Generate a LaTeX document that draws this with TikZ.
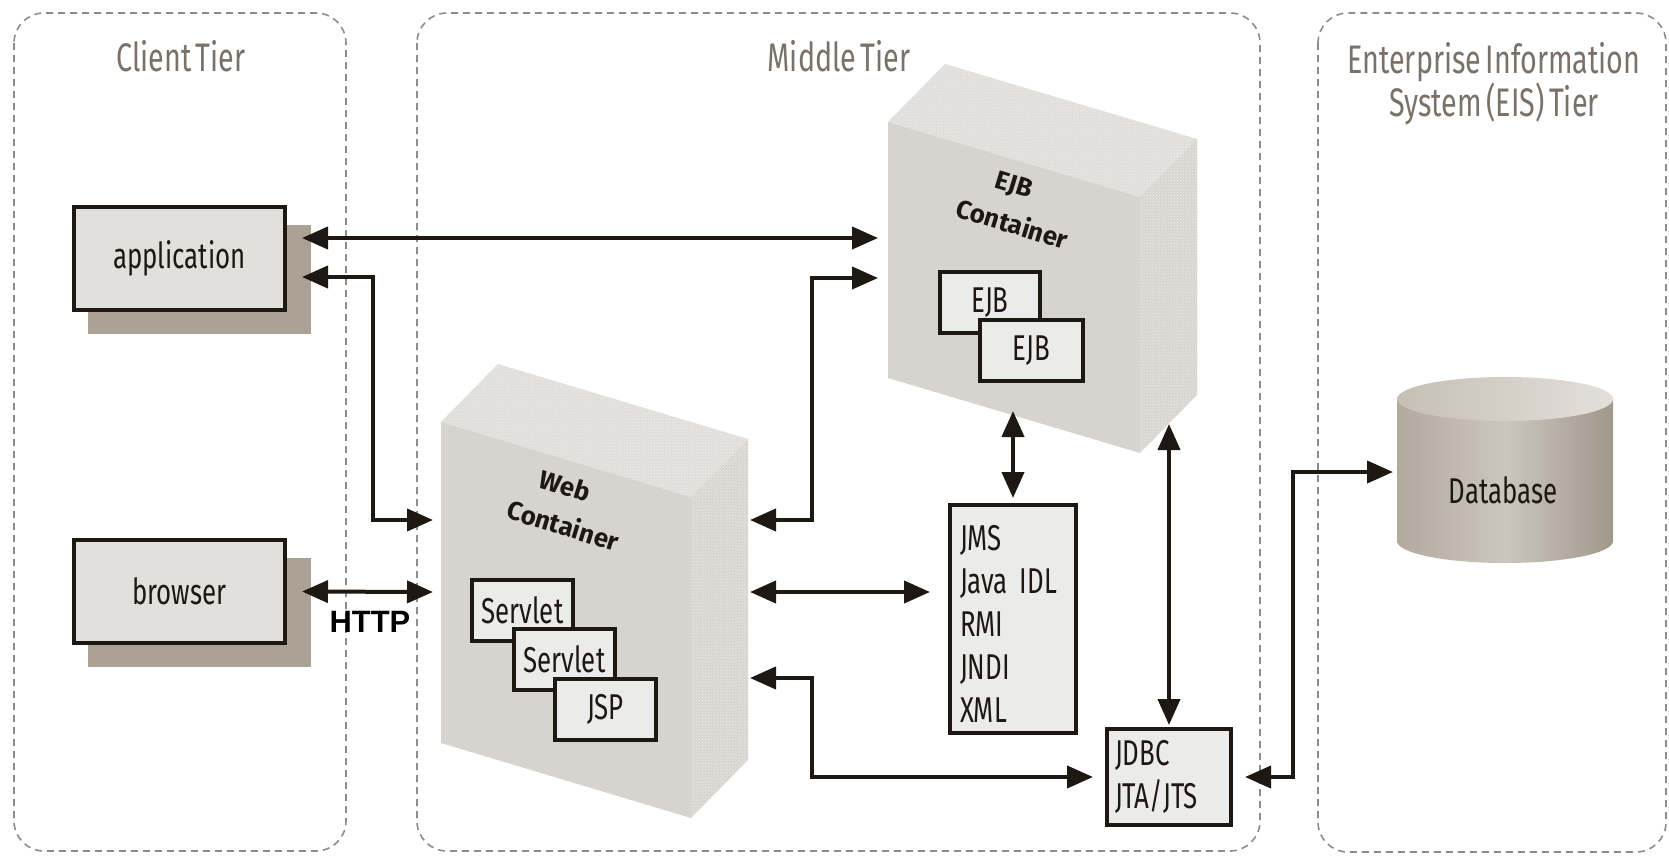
\documentclass[tikz,border=0pt]{standalone}
\usepackage{fontspec}
\usetikzlibrary{arrows.meta,calc,shadows,patterns}
\newfontfamily\dfont[FakeStretch=0.72, WordSpace=0.6]{Fira Sans}
\newfontfamily\bfont[WordSpace=0.8]{Fira Sans}
\newfontfamily\hfont{Liberation Sans}
\definecolor{tierdash}{HTML}{8C8C8C}
\definecolor{titlecol}{HTML}{7A7168}
\definecolor{ink}{HTML}{1E1813}
\definecolor{boxfill}{HTML}{E2E0DD}
\definecolor{shadowcol}{HTML}{ABA195}
\definecolor{innerfill}{HTML}{EBEBEA}
\definecolor{frontc}{HTML}{D7D4CF}
\definecolor{topc}{HTML}{E0DEDA}
\definecolor{sidec}{HTML}{D8D5D0}
\definecolor{dotc}{HTML}{F2F1EF}
\definecolor{dbL}{HTML}{B3AA9E}
\definecolor{dbM}{HTML}{CCC6BE}
\definecolor{dbR}{HTML}{A1988B}
\definecolor{dbT1}{HTML}{C6BFB5}
\definecolor{dbT2}{HTML}{E3DFDA}
\begin{document}
\begin{tikzpicture}[x=1bp,y=-1bp,
  tier/.style={draw=tierdash, line width=1.6bp, dash pattern=on 7bp off 5bp, rounded corners=30bp},
  ttl/.style={text=titlecol, font=\dfont\fontsize{40}{37}\selectfont, align=center, inner sep=0pt},
  txt/.style={text=ink, font=\dfont\fontsize{36}{43}\selectfont},
  cbox/.style={txt, draw=ink, line width=4bp, fill=boxfill, minimum width=211bp, minimum height=103bp, inner sep=0pt,
    drop shadow={shadow xshift=19bp, shadow yshift=-20bp, shadow scale=1.06, fill=shadowcol, opacity=1}},
  ibox/.style={txt, draw=ink, line width=4bp, fill=innerfill, inner sep=0pt},
  clbl/.style={text=ink, font=\bfont\bfseries\fontsize{26}{39}\selectfont, rotate=-17, inner sep=0pt, align=center},
  texture/.style={pattern=crosshatch dots, pattern color=dotc},
  dbl/.style={draw=ink, line width=4bp, {Triangle[length=26bp,width=22bp]}-{Triangle[length=26bp,width=22bp]}},
]
\useasboundingbox (0,0) rectangle (1669,856);
\fill[white] (0,0) rectangle (1669,856);

% tiers
\draw[tier] (14,13) rectangle (346,851);
\draw[tier] (417,13) rectangle (1260,851);
\draw[tier] (1318,13) rectangle (1666,852);
\node[ttl, anchor=base] (tclient) at (181,71) {Client Tier};
\node[ttl, anchor=base] (tmid) at (839,71) {Middle Tier};
\node[ttl] (teis) at (1494,84) {Enterprise Information\\System (EIS) Tier};

% web container
\coordinate (wTL) at (441,422);
\coordinate (wTR) at (691,497);
\coordinate (wBR) at (691,818);
\coordinate (wBL) at (441,743);
\fill[topc] (wTL) -- ++(57,-58) -- ($(wTR)+(57,-58)$) -- (wTR) -- cycle;
\fill[texture] (wTL) -- ++(57,-58) -- ($(wTR)+(57,-58)$) -- (wTR) -- cycle;
\fill[sidec] (wTR) -- ($(wTR)+(57,-58)$) -- ($(wBR)+(57,-58)$) -- (wBR) -- cycle;
\fill[texture] (wTR) -- ($(wTR)+(57,-58)$) -- ($(wBR)+(57,-58)$) -- (wBR) -- cycle;
\fill[frontc] (wTL) -- (wTR) -- (wBR) -- (wBL) -- cycle;
\node[clbl] (weblbl) at (569,507) {Web\hspace*{20bp}\\Container};
\node[ibox, minimum width=101bp, minimum height=61bp] (sv1) at (522.5,610.5) {Servlet};
\node[ibox, minimum width=101bp, minimum height=61bp] (sv2) at (564.5,659.5) {Servlet};
\node[ibox, minimum width=101bp, minimum height=61bp] (jsp) at (605.5,709.5) {JSP};

% EJB container
\coordinate (eTL) at (888,122);
\coordinate (eTR) at (1140,197);
\coordinate (eBR) at (1140,453);
\coordinate (eBL) at (888,378);
\fill[topc] (eTL) -- ++(57,-58) -- ($(eTR)+(57,-58)$) -- (eTR) -- cycle;
\fill[texture] (eTL) -- ++(57,-58) -- ($(eTR)+(57,-58)$) -- (eTR) -- cycle;
\fill[sidec] (eTR) -- ($(eTR)+(57,-58)$) -- ($(eBR)+(57,-58)$) -- (eBR) -- cycle;
\fill[texture] (eTR) -- ($(eTR)+(57,-58)$) -- ($(eBR)+(57,-58)$) -- (eBR) -- cycle;
\fill[frontc] (eTL) -- (eTR) -- (eBR) -- (eBL) -- cycle;
\node[clbl] (ejblbl) at (1018,206) {EJB\hspace*{20bp}\\Container};
\node[ibox, minimum width=100bp, minimum height=61bp] (ejb1) at (990,302.5) {EJB};
\node[ibox, minimum width=103bp, minimum height=61bp] (ejb2) at (1031.5,350.5) {EJB};

% services
\node[ibox, minimum width=126bp, minimum height=228bp] (jms) at (1013,619) {};
\node[txt, text width=106bp, align=left, inner sep=0pt] (jmslist) at (1013,624) {JMS\\Java IDL\\RMI\\JNDI\\XML};
\node[ibox, minimum width=124bp, minimum height=96bp, text width=108bp, align=left] (jdbc) at (1169,777) {JDBC\\JTA/JTS};

% client boxes
\node[cbox] (app) at (179.5,258) {application};
\node[cbox] (browser) at (179.5,591.5) {browser};

% database
\shade[left color=dbL, right color=dbR, middle color=dbM] (1397,399) -- (1397,541) arc[start angle=180,end angle=360,x radius=108bp,y radius=22bp] -- (1613,399) -- cycle;
\shade[left color=dbT1, right color=dbT2] (1505,399) ellipse [x radius=108bp, y radius=22bp];
\node[txt] (db) at (1503,490) {Database};
\coordinate (dbW) at (1393,472);

% ports
\coordinate (wL1) at (433,520);
\coordinate (wL2) at (433,592);
\coordinate (wR1) at (750,520);
\coordinate (wR2) at (750,592);
\coordinate (wR3) at (750,678);
\coordinate (eL1) at (878,238);
\coordinate (eL2) at (878,278);
\coordinate (eB) at (1013,411);
\coordinate (eRB) at (1169,424);

% connectors
\draw[dbl] ($(app.east)+(15,-20)$) -- (eL1);
\draw[dbl] ($(app.east)+(15,19)$) -| ($(wL1)+(-60,0)$) -- (wL1);
\draw[dbl] ($(browser.east)+(15,0)$) -- (wL2);
\draw[dbl] (wR1) -| ($(eL2)+(-66,0)$) -- (eL2);
\draw[dbl] (wR2) -- ($(wR2 -| jms.west)+(-18,0)$);
\draw[dbl] (wR3) -| ($(jdbc.west)+(-293,0)$) -- ($(jdbc.west)+(-12,0)$);
\draw[dbl] (eB) -- ($(jms.north)+(0,-5)$);
\draw[dbl] (eRB) -- ($(jdbc.north)+(0,-2)$);
\draw[dbl] ($(jdbc.east)+(12,0)$) -| ($(dbW)+(-100,0)$) -- (dbW);

\node[font=\hfont\bfseries\fontsize{31}{31}\selectfont, text=black] (http) at (370,622) {HTTP};
\end{tikzpicture}
\end{document}
